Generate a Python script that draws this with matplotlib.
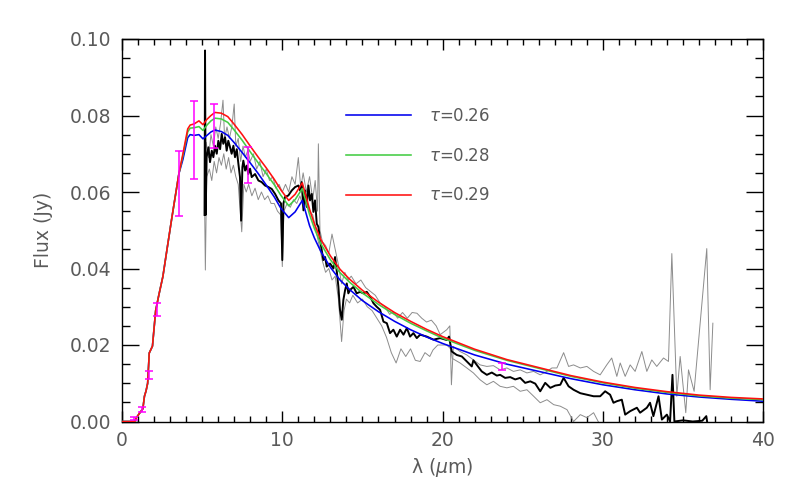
import matplotlib
matplotlib.use("Agg")
import matplotlib.pyplot as plt
from matplotlib.ticker import MultipleLocator, FormatStrFormatter
from matplotlib.lines import Line2D

# ---------------- data ----------------
# model SEDs
lam_mod = [0.0, 0.8, 0.9, 1.1, 1.3, 1.4, 1.5, 1.6, 1.7, 1.9, 2.1, 2.3, 2.55, 2.8, 3.1,
           3.55, 3.8, 4.1, 4.25, 4.5, 4.8, 5.05, 5.3, 5.55, 5.8, 6.2, 6.6, 7.0, 7.5,
           8.0, 8.5, 9.0, 9.5, 9.9, 10.4, 10.8, 11.25, 11.7, 12.0, 12.4, 13.0, 13.6,
           14.2, 15.0, 16.0, 17.0, 18.0, 19.0, 20.0, 22.0, 24.0, 26.0, 28.0, 30.0,
           32.0, 34.0, 36.0, 38.0, 40.0]
mod_026 = [0, 0, 0.001, 0.0022, 0.0033, 0.0066, 0.0080, 0.0100, 0.0179, 0.0197, 0.0290,
           0.0331, 0.0379, 0.0448, 0.0530, 0.0648, 0.0685, 0.0742, 0.0750, 0.0748,
           0.0750, 0.0739, 0.0748, 0.0757, 0.0762, 0.0758, 0.0748, 0.0729, 0.0703,
           0.0676, 0.0648, 0.0618, 0.0587, 0.0558, 0.0533, 0.0548, 0.0578, 0.0512,
           0.0480, 0.0445, 0.0403, 0.0370, 0.0345, 0.0316, 0.0287, 0.0262, 0.0240,
           0.0221, 0.0204, 0.0174, 0.0150, 0.0131, 0.0112, 0.0096, 0.0083, 0.0072,
           0.0064, 0.0058, 0.0053]
mod_028 = [0, 0, 0.001, 0.0022, 0.0033, 0.0066, 0.0080, 0.0100, 0.0179, 0.0197, 0.0290,
           0.0331, 0.0379, 0.0448, 0.0530, 0.0648, 0.0695, 0.0757, 0.0767, 0.0768,
           0.0771, 0.0761, 0.0775, 0.0786, 0.0793, 0.0791, 0.0782, 0.0762, 0.0735,
           0.0705, 0.0676, 0.0648, 0.0619, 0.0592, 0.0564, 0.0580, 0.0609, 0.0541,
           0.0505, 0.0465, 0.0423, 0.0389, 0.0364, 0.0336, 0.0306, 0.0280, 0.0257,
           0.0237, 0.0218, 0.0186, 0.0160, 0.0139, 0.0118, 0.0101, 0.0087, 0.0076,
           0.0067, 0.0061, 0.0057]
mod_029 = [0, 0, 0.001, 0.0022, 0.0033, 0.0066, 0.0080, 0.0100, 0.0179, 0.0197, 0.0290,
           0.0331, 0.0379, 0.0448, 0.0530, 0.0648, 0.0700, 0.0765, 0.0775, 0.0778,
           0.0786, 0.0776, 0.0790, 0.0800, 0.0808, 0.0806, 0.0797, 0.0777, 0.0750,
           0.0720, 0.0691, 0.0663, 0.0633, 0.0606, 0.0578, 0.0594, 0.0624, 0.0555,
           0.0517, 0.0476, 0.0433, 0.0398, 0.0372, 0.0343, 0.0312, 0.0285, 0.0262,
           0.0241, 0.0222, 0.0189, 0.0162, 0.0141, 0.0120, 0.0103, 0.0089, 0.0078,
           0.0069, 0.0063, 0.0059]
model_labels = [r"$\tau$=0.26", r"$\tau$=0.28", r"$\tau$=0.29"]

# observed spectrum (lambda, flux)
spec_mean = [
    (5.15, 0.054), (5.18, 0.097), (5.22, 0.054), (5.28, 0.0691), (5.39, 0.0717),
    (5.49, 0.0678), (5.60, 0.0708), (5.70, 0.0691), (5.80, 0.0721), (5.91, 0.0700),
    (6.01, 0.0734), (6.12, 0.0712), (6.22, 0.0752), (6.32, 0.0726), (6.43, 0.0743),
    (6.53, 0.0708), (6.63, 0.0734), (6.74, 0.0717), (6.84, 0.0700), (6.95, 0.0721),
    (7.05, 0.0691), (7.16, 0.0712), (7.26, 0.0674), (7.36, 0.0639), (7.43, 0.0525),
    (7.51, 0.0665), (7.57, 0.0682), (7.68, 0.0656), (7.78, 0.0669), (7.88, 0.0647),
    (7.99, 0.0661), (8.09, 0.0639), (8.30, 0.0647), (8.51, 0.0630), (8.71, 0.0626),
    (8.92, 0.0617), (9.13, 0.0613), (9.34, 0.0608), (9.55, 0.0595), (9.76, 0.0578),
    (9.92, 0.0570), (10.00, 0.0422), (10.07, 0.0570), (10.17, 0.0587), (10.38, 0.0591),
    (10.59, 0.0604), (10.80, 0.0613), (11.01, 0.0617), (11.11, 0.0604), (11.21, 0.0626),
    (11.32, 0.0552), (11.42, 0.0604), (11.52, 0.0561), (11.63, 0.0617), (11.73, 0.0578),
    (11.84, 0.0595), (11.94, 0.0548), (12.04, 0.0578), (12.15, 0.0517), (12.25, 0.0509),
    (12.36, 0.0474), (12.46, 0.0448), (12.56, 0.0422), (12.67, 0.0430), (12.77, 0.0405),
    (12.98, 0.0413), (13.19, 0.0400), (13.29, 0.0430), (13.39, 0.0396), (13.50, 0.0352),
    (13.60, 0.0292), (13.71, 0.0266), (13.81, 0.0318), (13.92, 0.0344), (14.02, 0.0361),
    (14.12, 0.0335), (14.23, 0.0344), (14.44, 0.0352), (14.64, 0.0335), (14.85, 0.0339),
    (15.06, 0.0335), (15.27, 0.0339), (15.48, 0.0326), (15.69, 0.0309), (15.89, 0.0300),
    (16.10, 0.0292), (16.31, 0.0261), (16.52, 0.0257), (16.72, 0.0231), (16.93, 0.0240),
    (17.14, 0.0222), (17.35, 0.0240), (17.56, 0.0227), (17.77, 0.0244), (17.97, 0.0222),
    (18.18, 0.0231), (18.39, 0.0218), (18.60, 0.0227), (19.01, 0.0222), (19.43, 0.0214),
    (19.85, 0.0218), (20.26, 0.0213), (20.40, 0.0222), (20.57, 0.0183), (20.88, 0.0174),
    (21.20, 0.0170), (21.51, 0.0157), (21.82, 0.0144), (21.92, 0.0160), (22.13, 0.0148),
    (22.44, 0.0131), (22.76, 0.0122), (23.07, 0.0128), (23.38, 0.0120), (23.59, 0.0122),
    (23.90, 0.0114), (24.22, 0.0116), (24.53, 0.0110), (24.84, 0.0114), (25.15, 0.0101),
    (25.47, 0.0105), (25.78, 0.0099), (26.09, 0.0079), (26.40, 0.0101), (26.72, 0.0088),
    (27.03, 0.0094), (27.34, 0.0096), (27.55, 0.0114), (27.86, 0.0092), (28.17, 0.0083),
    (28.59, 0.0074), (29.00, 0.0070), (29.42, 0.0066), (29.83, 0.0066), (30.14, 0.0079),
    (30.45, 0.0070), (30.66, 0.0049), (30.87, 0.0053), (31.18, 0.0057), (31.39, 0.0018),
    (31.70, 0.0027), (32.12, 0.0036), (32.32, 0.0023), (32.74, 0.0036), (32.94, 0.0049),
    (33.15, 0.0014), (33.47, 0.0066), (33.68, 0.0005), (33.99, 0.0018), (34.19, 0.0),
    (34.34, 0.0122), (34.46, 0.0), (35.00, 0.0003), (35.60, 0.0), (36.20, 0.0002),
    (36.45, 0.0014), (36.50, 0.0),
]
spec_upper = [
    (5.15, 0.060), (5.25, 0.073), (5.40, 0.069), (5.55, 0.075), (5.70, 0.072),
    (5.85, 0.077), (6.00, 0.074), (6.15, 0.078), (6.30, 0.084), (6.40, 0.074),
    (6.55, 0.077), (6.70, 0.074), (6.85, 0.077), (7.00, 0.083), (7.10, 0.072),
    (7.25, 0.074), (7.40, 0.068), (7.55, 0.072), (7.70, 0.069), (7.85, 0.071),
    (8.00, 0.068), (8.20, 0.070), (8.40, 0.066), (8.60, 0.068), (8.80, 0.064),
    (9.00, 0.066), (9.20, 0.063), (9.40, 0.064), (9.60, 0.061), (9.80, 0.062),
    (10.00, 0.060), (10.20, 0.062), (10.40, 0.060), (10.60, 0.064), (10.80, 0.062),
    (11.00, 0.069), (11.15, 0.061), (11.30, 0.065), (11.50, 0.060), (11.70, 0.064),
    (11.90, 0.058), (12.05, 0.063), (12.20, 0.055), (12.25, 0.0726), (12.35, 0.050),
    (12.50, 0.047), (12.70, 0.046), (12.90, 0.044), (13.10, 0.049), (13.30, 0.045),
    (13.50, 0.041), (13.70, 0.036), (13.90, 0.039), (14.10, 0.037), (14.30, 0.038),
    (14.60, 0.036), (14.90, 0.037), (15.20, 0.035), (15.50, 0.034), (15.80, 0.033),
    (16.10, 0.031), (16.40, 0.030), (16.70, 0.028), (16.90, 0.0287), (17.20, 0.027),
    (17.50, 0.0285), (17.80, 0.027), (18.10, 0.0285), (18.40, 0.0283), (18.70, 0.027),
    (19.00, 0.026), (19.30, 0.0265), (19.60, 0.025), (19.85, 0.0227), (20.26, 0.0240),
    (20.45, 0.0250), (20.55, 0.0096), (20.67, 0.0196), (21.09, 0.0183), (21.51, 0.0174),
    (21.92, 0.0161), (22.34, 0.0148), (22.76, 0.0144), (23.17, 0.0146), (23.59, 0.0135),
    (24.01, 0.0140), (24.42, 0.0131), (24.84, 0.0135), (25.26, 0.0127), (25.68, 0.0131),
    (26.09, 0.0122), (26.51, 0.0131), (26.82, 0.0140), (27.13, 0.0140), (27.55, 0.0180),
    (27.86, 0.0144), (28.17, 0.0148), (28.59, 0.0140), (29.00, 0.0144), (29.42, 0.0131),
    (29.83, 0.0122), (30.24, 0.0148), (30.55, 0.0166), (30.87, 0.0118), (31.08, 0.0153),
    (31.39, 0.0118), (31.70, 0.0148), (32.01, 0.0131), (32.43, 0.0183), (32.74, 0.0131),
    (33.05, 0.0161), (33.36, 0.0144), (33.78, 0.0166), (34.09, 0.0157), (34.30, 0.0439),
    (34.61, 0.0066), (34.82, 0.0170), (35.17, 0.0023), (35.34, 0.0135), (35.69, 0.0079),
    (36.48, 0.0452), (36.69, 0.0083), (36.86, 0.0257),
]
spec_lower = [
    (5.15, 0.058), (5.20, 0.0396), (5.28, 0.064), (5.45, 0.066), (5.60, 0.063),
    (5.75, 0.068), (5.90, 0.065), (6.05, 0.069), (6.20, 0.067), (6.35, 0.070),
    (6.50, 0.066), (6.65, 0.069), (6.80, 0.065), (6.95, 0.067), (7.10, 0.064),
    (7.25, 0.062), (7.47, 0.0496), (7.60, 0.062), (7.75, 0.060), (7.90, 0.062),
    (8.10, 0.059), (8.30, 0.061), (8.50, 0.058), (8.70, 0.060), (8.90, 0.058),
    (9.10, 0.059), (9.30, 0.057), (9.50, 0.057), (9.70, 0.055), (9.90, 0.054),
    (10.00, 0.0405), (10.10, 0.055), (10.30, 0.057), (10.50, 0.056), (10.70, 0.058),
    (10.90, 0.057), (11.10, 0.059), (11.30, 0.056), (11.50, 0.058), (11.70, 0.055),
    (11.90, 0.054), (12.10, 0.050), (12.30, 0.046), (12.50, 0.042), (12.70, 0.039),
    (12.90, 0.040), (13.10, 0.037), (13.30, 0.038), (13.50, 0.032), (13.70, 0.0209),
    (13.85, 0.029), (14.00, 0.032), (14.20, 0.031), (14.40, 0.033), (14.70, 0.031),
    (15.00, 0.032), (15.30, 0.030), (15.60, 0.029), (15.90, 0.027), (16.20, 0.025),
    (16.50, 0.022), (16.80, 0.018), (17.10, 0.0153), (17.40, 0.019), (17.70, 0.017),
    (18.00, 0.019), (18.30, 0.016), (18.60, 0.0157), (18.90, 0.018), (19.20, 0.017),
    (19.40, 0.0187), (19.70, 0.020), (20.00, 0.020), (20.26, 0.020), (20.50, 0.0190),
    (20.60, 0.0165), (21.09, 0.0153), (21.51, 0.0140), (21.92, 0.0127), (22.34, 0.0109),
    (22.76, 0.0096), (23.17, 0.0105), (23.59, 0.0092), (24.01, 0.0088), (24.42, 0.0092),
    (24.84, 0.0079), (25.26, 0.0083), (25.68, 0.0066), (26.09, 0.0049), (26.51, 0.0057),
    (26.93, 0.0044), (27.34, 0.0040), (27.76, 0.0031), (28.17, 0.0), (28.59, 0.0018),
    (29.00, 0.0010), (29.42, 0.0023), (29.83, -0.001), (31.00, -0.003), (33.00, -0.004),
    (34.30, -0.020), (35.00, -0.003), (36.50, -0.020), (36.86, -0.003),
]

# photometry with error bars
phot_lam = [0.77, 1.23, 1.69, 2.16, 3.56, 4.49, 5.76, 7.88, 23.7]
phot_flux = [0.0008, 0.0032, 0.0122, 0.0293, 0.0622, 0.0736, 0.0773, 0.0670, 0.0144]
phot_err = [0.0003, 0.0007, 0.0010, 0.0017, 0.0086, 0.0101, 0.0058, 0.0047, 0.0009]

x_ticks = [0, 10, 20, 30, 40]
y_ticks = [0.00, 0.02, 0.04, 0.06, 0.08, 0.10]

# ---------------- figure ----------------
text_col = "#5a5a5a"
plt.rcParams["font.family"] = ["DejaVu Sans"]
plt.rcParams["mathtext.fontset"] = "dejavusans"

fig = plt.figure(figsize=(8, 5), dpi=100)
ax = fig.add_axes([0.1525, 0.157, 0.8015, 0.765])

def unzip(pairs):
    return [p[0] for p in pairs], [p[1] for p in pairs]

ux, uy = unzip(spec_upper)
lx, ly = unzip(spec_lower)
mx, my = unzip(spec_mean)
ax.plot(ux, uy, color="#8c8c8c", lw=0.7, zorder=2)
ax.plot(lx, ly, color="#8c8c8c", lw=0.7, zorder=2)
ax.plot(mx, my, color="black", lw=1.4, zorder=3)

cols = ["#0000ee", "#44cc44", "#ff1010"]
for vals, c in zip([mod_026, mod_028, mod_029], cols):
    ax.plot(lam_mod, vals, color=c, lw=1.15, zorder=4)

ax.errorbar(phot_lam, phot_flux, yerr=phot_err, fmt="none", ecolor="#ff00ff",
            elinewidth=1.1, capsize=3, capthick=1.1, zorder=5)

handles = [Line2D([], [], color=c, lw=1.15) for c in cols]
leg = ax.legend(handles, model_labels, loc="upper left",
                bbox_to_anchor=(0.349, 0.822), frameon=False, fontsize=12,
                handlelength=3.9, handletextpad=1.1, labelspacing=1.3,
                borderpad=0, borderaxespad=0)
for t in leg.get_texts():
    t.set_color(text_col)

ax.set_xlim(0, 40)
ax.set_ylim(0, 0.10)
ax.set_xticks(x_ticks)
ax.set_yticks(y_ticks)
ax.xaxis.set_minor_locator(MultipleLocator(1))
ax.yaxis.set_minor_locator(MultipleLocator(0.005))
ax.yaxis.set_major_formatter(FormatStrFormatter("%.2f"))

ax.tick_params(axis="both", which="both", direction="in", top=True, right=True,
               colors="black", labelcolor=text_col, labelsize=13.5, width=1.0)
ax.tick_params(axis="x", which="major", length=8, pad=7)
ax.tick_params(axis="x", which="minor", length=4)
ax.tick_params(axis="y", which="major", length=12, pad=8)
ax.tick_params(axis="y", which="minor", length=6)
for s in ax.spines.values():
    s.set_linewidth(1.0)

ax.set_xlabel("λ ($\\mu$m)", fontsize=13.5, color=text_col, labelpad=4)
ax.set_ylabel("Flux (Jy)", fontsize=13.5, color=text_col, labelpad=12)

fig.savefig("out.png", dpi=100)
